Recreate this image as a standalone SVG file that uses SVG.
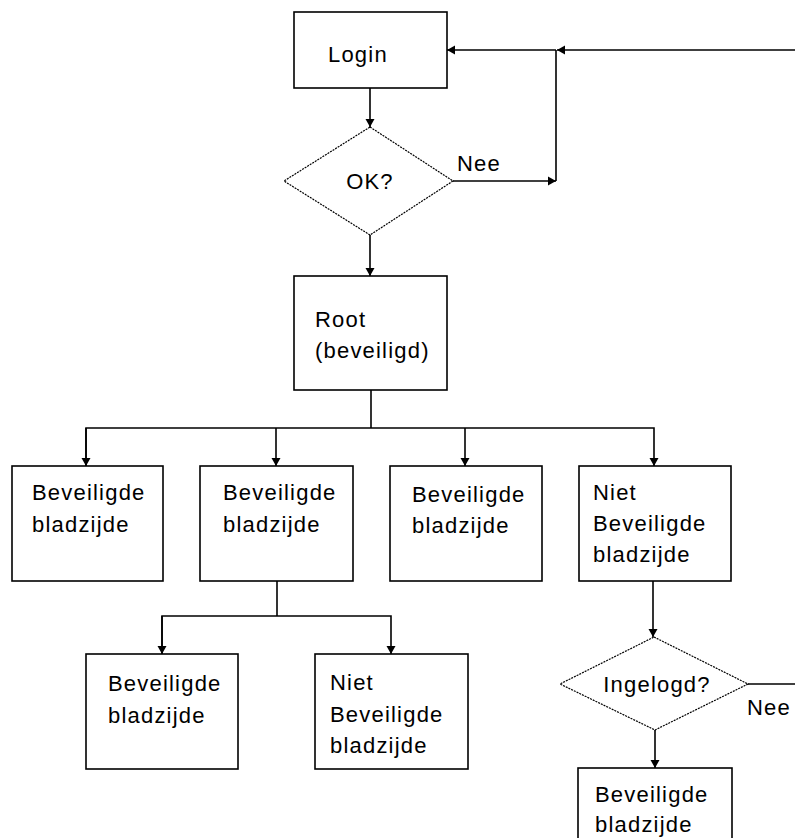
<svg xmlns="http://www.w3.org/2000/svg" width="795" height="838" viewBox="0 0 795 838">
<style>
.box{fill:#fff;stroke:#000;stroke-width:1.6}
.dia{fill:#fff;stroke:#000;stroke-width:1.2;stroke-dasharray:2 1}
.ln{fill:none;stroke:#000;stroke-width:1.6}
text{font-family:"Liberation Sans",Arial,sans-serif;font-size:22px;letter-spacing:1.2px;fill:#000}
</style>
<defs>
<marker id="ah" markerUnits="userSpaceOnUse" markerWidth="12" markerHeight="12" viewBox="0 0 12 12" refX="11" refY="6" orient="auto">
<path d="M3,1.5 L11,6 L3,10.5 Z" fill="#000"/>
</marker>
</defs>
<rect width="795" height="838" fill="#fff"/>
<g id="connectors">
<line class="ln" x1="370" y1="88" x2="370" y2="127" marker-end="url(#ah)"/>
<line class="ln" x1="453" y1="181" x2="556" y2="181" marker-end="url(#ah)"/>
<line class="ln" x1="556" y1="181" x2="556" y2="50"/>
<line class="ln" x1="556" y1="50" x2="447" y2="50" marker-end="url(#ah)"/>
<line class="ln" x1="795" y1="50" x2="557" y2="50" marker-end="url(#ah)"/>
<line class="ln" x1="370" y1="235" x2="370" y2="276" marker-end="url(#ah)"/>
<polyline class="ln" points="371,390 371,428"/>
<polyline class="ln" points="86,466 86,428 654,428 654,466" marker-end="url(#ah)"/>
<line class="ln" x1="86" y1="428" x2="86" y2="466" marker-end="url(#ah)"/>
<line class="ln" x1="276" y1="428" x2="276" y2="466" marker-end="url(#ah)"/>
<line class="ln" x1="465" y1="428" x2="465" y2="466" marker-end="url(#ah)"/>
<polyline class="ln" points="277,581 277,616"/>
<polyline class="ln" points="162,654 162,616 391,616 391,654" marker-end="url(#ah)"/>
<line class="ln" x1="162" y1="616" x2="162" y2="654" marker-end="url(#ah)"/>
<line class="ln" x1="653" y1="581" x2="653" y2="637" marker-end="url(#ah)"/>
<line class="ln" x1="748" y1="684" x2="795" y2="684"/>
<line class="ln" x1="655" y1="730" x2="655" y2="768" marker-end="url(#ah)"/>
<text x="457" y="171">Nee</text>
<text x="747" y="715">Nee</text>
</g>
<g id="login">
<rect class="box" x="294" y="12" width="153" height="76"/>
<text x="328" y="62">Login</text>
</g>
<g id="ok">
<polygon class="dia" points="370,127 453,181 370,235 284,181"/>
<text x="370" y="189" text-anchor="middle">OK?</text>
</g>
<g id="root">
<rect class="box" x="294" y="276" width="153" height="114"/>
<text x="315" y="327">Root</text>
<text x="315" y="358">(beveiligd)</text>
</g>
<g id="b1">
<rect class="box" x="12" y="466" width="151" height="115"/>
<text x="32" y="500">Beveiligde</text>
<text x="32" y="532">bladzijde</text>
</g>
<g id="b2">
<rect class="box" x="200" y="466" width="153" height="115"/>
<text x="223" y="500">Beveiligde</text>
<text x="223" y="532">bladzijde</text>
</g>
<g id="b3">
<rect class="box" x="390" y="466" width="152" height="115"/>
<text x="412" y="502">Beveiligde</text>
<text x="412" y="533">bladzijde</text>
</g>
<g id="b4">
<rect class="box" x="579" y="466" width="152" height="115"/>
<text x="593" y="500">Niet</text>
<text x="593" y="531">Beveiligde</text>
<text x="593" y="562">bladzijde</text>
</g>
<g id="b5">
<rect class="box" x="86" y="654" width="152" height="115"/>
<text x="108" y="691">Beveiligde</text>
<text x="108" y="723">bladzijde</text>
</g>
<g id="b6">
<rect class="box" x="315" y="654" width="153" height="115"/>
<text x="330" y="690">Niet</text>
<text x="330" y="722">Beveiligde</text>
<text x="330" y="753">bladzijde</text>
</g>
<g id="ingelogd">
<polygon class="dia" points="654,637 748,684 655,730 560,684"/>
<text x="657" y="692" text-anchor="middle">Ingelogd?</text>
</g>
<g id="b7">
<rect class="box" x="578" y="768" width="154" height="90"/>
<text x="595" y="802">Beveiligde</text>
<text x="595" y="832">bladzijde</text>
</g>
</svg>
